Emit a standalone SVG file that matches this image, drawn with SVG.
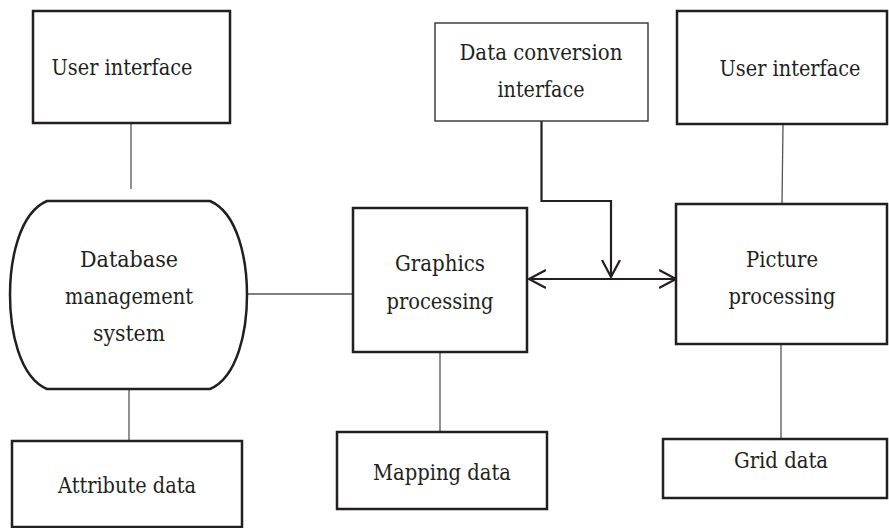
<svg xmlns="http://www.w3.org/2000/svg" width="889" height="528" viewBox="0 0 889 528">
<defs>
<style>
.box{fill:#fff;stroke:#231f20;stroke-width:2.5}
.thin{fill:#fff;stroke:#333;stroke-width:1.4}
.ln{fill:none;stroke:#555;stroke-width:1.3}
.arr{fill:none;stroke:#231f20;stroke-width:2.2}
.t{font-family:'DejaVu Serif','Liberation Serif',serif;font-size:22px;fill:#231f20;text-anchor:middle}
</style>
<marker id="ah" viewBox="0 0 20 20" refX="17" refY="10" markerWidth="20" markerHeight="20" markerUnits="userSpaceOnUse" orient="auto-start-reverse">
<path d="M0,1 L17,10 L0,19" fill="none" stroke="#231f20" stroke-width="2.2"/>
</marker>
</defs>
<rect width="889" height="528" fill="#fff"/>
<g id="connectors">
<line class="ln" x1="131" y1="123" x2="131" y2="189"/>
<line class="ln" x1="129" y1="389" x2="129" y2="441"/>
<line class="ln" x1="247" y1="294" x2="353" y2="294"/>
<line class="ln" x1="440" y1="352" x2="440" y2="432"/>
<line class="ln" x1="783" y1="124" x2="782" y2="204"/>
<line class="ln" x1="781" y1="344" x2="781" y2="439"/>
<polyline class="arr" points="541.5,121 541.5,201 611,201 611,277" marker-end="url(#ah)"/>
<line class="arr" x1="529" y1="279" x2="676" y2="279" marker-start="url(#ah)" marker-end="url(#ah)"/>
</g>
<g id="ui-left">
<rect class="box" x="33" y="11" width="197" height="112"/>
<text class="t" x="122" y="75" textLength="141" lengthAdjust="spacingAndGlyphs">User interface</text>
</g>
<g id="dbms">
<path class="box" d="M47,201 H210 C238,213 247,260 247,295 C247,330 238,377 210,389 H47 C19,377 10,330 10,295 C10,260 19,213 47,201 Z"/>
<text class="t" x="129" y="267" textLength="98" lengthAdjust="spacingAndGlyphs">Database</text>
<text class="t" x="129" y="304" textLength="128" lengthAdjust="spacingAndGlyphs">management</text>
<text class="t" x="129" y="341" textLength="72" lengthAdjust="spacingAndGlyphs">system</text>
</g>
<g id="attribute-data">
<rect class="box" x="12" y="441" width="230" height="86"/>
<text class="t" x="127" y="493" textLength="138" lengthAdjust="spacingAndGlyphs">Attribute data</text>
</g>
<g id="graphics">
<rect class="box" x="353" y="208" width="174" height="144"/>
<text class="t" x="440" y="271" textLength="90" lengthAdjust="spacingAndGlyphs">Graphics</text>
<text class="t" x="440" y="309" textLength="107" lengthAdjust="spacingAndGlyphs">processing</text>
</g>
<g id="mapping-data">
<rect class="box" x="337" y="432" width="210" height="77"/>
<text class="t" x="442" y="480" textLength="138" lengthAdjust="spacingAndGlyphs">Mapping data</text>
</g>
<g id="data-conversion">
<rect class="thin" x="435" y="23" width="213" height="98"/>
<text class="t" x="541" y="60" textLength="163" lengthAdjust="spacingAndGlyphs">Data conversion</text>
<text class="t" x="541" y="97" textLength="87" lengthAdjust="spacingAndGlyphs">interface</text>
</g>
<g id="ui-right">
<rect class="box" x="677" y="11" width="210" height="113"/>
<text class="t" x="790" y="76" textLength="141" lengthAdjust="spacingAndGlyphs">User interface</text>
</g>
<g id="picture">
<rect class="box" x="676" y="204" width="211" height="140"/>
<text class="t" x="782" y="267" textLength="72" lengthAdjust="spacingAndGlyphs">Picture</text>
<text class="t" x="782" y="304" textLength="107" lengthAdjust="spacingAndGlyphs">processing</text>
</g>
<g id="grid-data">
<rect class="box" x="663" y="439" width="224" height="59"/>
<text class="t" x="781" y="468" textLength="94" lengthAdjust="spacingAndGlyphs">Grid data</text>
</g>
</svg>
